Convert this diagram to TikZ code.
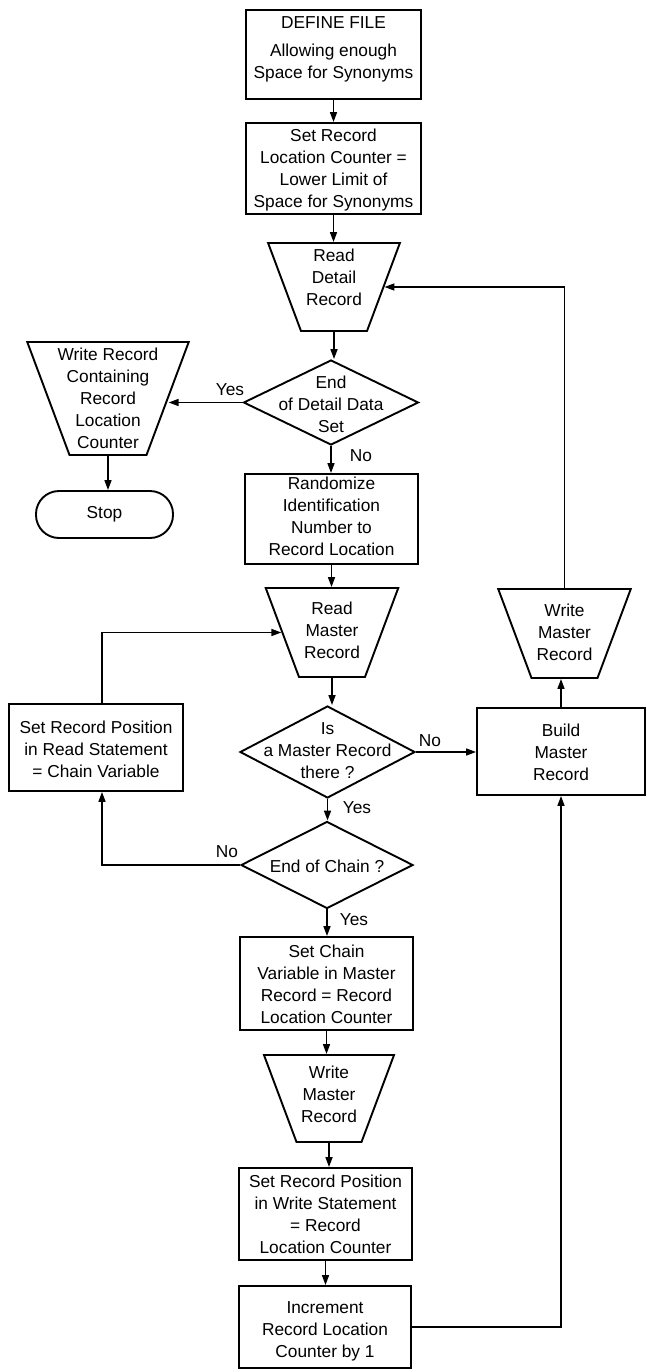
\documentclass[tikz,border=0pt]{standalone}
\usepackage{fontspec}
\setmainfont{Liberation Sans}
\usetikzlibrary{shapes.geometric,arrows.meta,calc}
\begin{document}
\begin{tikzpicture}[x=1pt,y=-1pt,
 box/.style={draw, rectangle, line width=1.9pt, inner sep=0pt},
 trap/.style={draw, trapezium, trapezium angle=69.5, shape border rotate=180, inner sep=0pt, line width=1.9pt},
 dia/.style={draw, diamond, inner sep=0pt, line width=1.9pt},
 term/.style={draw, rectangle, rounded corners=23pt, line width=1.9pt, inner sep=0pt},
 txt/.style={align=center, font=\fontsize{17.3}{22}\selectfont, inner sep=0pt},
 lbl/.style={font=\fontsize{17.3}{22}\selectfont, inner sep=0pt},
 arr/.style={line width=1.6pt, -{Triangle[length=10pt,width=7pt]}},
 ln/.style={line width=1.6pt}]
\useasboundingbox (0,0) rectangle (647,1372);

% main column
\node[box, minimum width=175pt, minimum height=89pt] (df) at (333.5,54.5) {};
\node[txt] (dft) at (333.5,49.5) {DEFINE FILE\\[6pt]Allowing enough\\Space for Synonyms};

\node[box, minimum width=175pt, minimum height=91pt] (srl) at (333.5,168.5) {};
\node[txt] (srlt) at (333.5,170) {Set Record\\Location Counter =\\Lower Limit of\\Space for Synonyms};

\node[trap, text width=66pt, text height=44pt, text depth=44pt] (rd) at (334,287) {};
\node[txt] (rdt) at (334,277) {Read\\Detail\\Record};

\node[dia, minimum width=175pt, minimum height=85pt] (eod) at (331,402.5) {};
\node[txt] (eodt) at (331,404) {End\\of Detail Data\\Set};

\node[box, minimum width=173pt, minimum height=90pt] (rand) at (331.5,519) {};
\node[txt] (randt) at (331.5,516.5) {Randomize\\Identification\\Number to\\Record Location};

\node[trap, text width=66pt, text height=44.5pt, text depth=44.5pt] (rm) at (332,632.5) {};
\node[txt] (rmt) at (332,630) {Read\\Master\\Record};

\node[dia, minimum width=175pt, minimum height=92pt] (imr) at (327.5,752) {};
\node[txt] (imrt) at (327.5,751) {Is\\a Master Record\\there ?};

\node[dia, minimum width=172pt, minimum height=87pt] (eoc) at (327,865) {};
\node[txt] (eoct) at (327,866) {End of Chain ?};

\node[box, minimum width=173pt, minimum height=93pt] (scv) at (326.5,983.5) {};
\node[txt] (scvt) at (326.5,984) {Set Chain\\Variable in Master\\Record = Record\\Location Counter};

\node[trap, text width=65pt, text height=43.5pt, text depth=43.5pt] (wm2) at (329,1098.5) {};
\node[txt] (wm2t) at (329,1094) {Write\\Master\\Record};

\node[box, minimum width=173pt, minimum height=92pt] (srw) at (325.5,1214) {};
\node[txt] (srwt) at (325.5,1214) {Set Record Position\\in Write Statement\\= Record\\Location Counter};

\node[box, minimum width=172pt, minimum height=82pt] (inc) at (325,1327) {};
\node[txt] (inct) at (325,1331) {Increment\\Record Location\\Counter by 1};

% left column
\node[trap, text width=77pt, text height=56.5pt, text depth=56.5pt] (wr) at (108,398.5) {};
\node[txt] (wrt) at (108,398.5) {Write Record\\Containing\\Record\\Location\\Counter};

\node[term, minimum width=137pt, minimum height=47pt] (stop) at (104.5,514.5) {};
\node[txt] (stopt) at (104.5,514.5) {Stop};

\node[box, minimum width=174pt, minimum height=87pt] (srr) at (96,747.5) {};
\node[txt] (srrt) at (96,749) {Set Record Position\\in Read Statement\\= Chain Variable};

% right column
\node[trap, text width=66pt, text height=44.5pt, text depth=44.5pt] (wm1) at (564.5,633.5) {};
\node[txt] (wm1t) at (564.5,632) {Write\\Master\\Record};

\node[box, minimum width=168pt, minimum height=87pt] (bmr) at (561,751.5) {};
\node[txt] (bmrt) at (561,752) {Build\\Master\\Record};

% connectors
\draw[arr] (df.south) -- (df.south |- srl.north);
\draw[arr] (srl.south) -- (srl.south |- rd.north);
\draw[arr] (rd.south) -- (rd.south |- eod.north);
\draw[arr] (eod.west) -- (eod.west -| wr.east);
\draw[arr] (wr.south) -- (wr.south |- stop.north);
\draw[arr] (eod.south) -- (eod.south |- rand.north);
\draw[arr] (rand.south) -- (rand.south |- rm.north);
\draw[arr] (rm.south) -- (rm.south |- imr.north);
\draw[arr] (imr.east) -- (imr.east -| bmr.west);
\draw[arr] (imr.south) -- (imr.south |- eoc.north);
\draw[arr] (eoc.west) -| ([xshift=6pt]srr.south);
\draw[arr] ([xshift=6pt]srr.north) |- (rm);
\draw[arr] (eoc.south) -- (eoc.south |- scv.north);
\draw[arr] (scv.south) -- (scv.south |- wm2.north);
\draw[arr] (wm2.south) -- (wm2.south |- srw.north);
\draw[arr] (srw.south) -- (srw.south |- inc.north);
\draw[arr] (inc.east) -| (bmr.south);
\draw[arr] (bmr.north) -- (bmr.north |- wm1.south);
\draw[arr] (wm1.north) |- (rd);

% branch labels
\node[lbl] (y1) at (230,390) {Yes};
\node[lbl] (n1) at (361,456) {No};
\node[lbl] (n2) at (430,741) {No};
\node[lbl] (y2) at (357,808) {Yes};
\node[lbl] (n3) at (227,852) {No};
\node[lbl] (y3) at (354,920) {Yes};
\end{tikzpicture}
\end{document}
